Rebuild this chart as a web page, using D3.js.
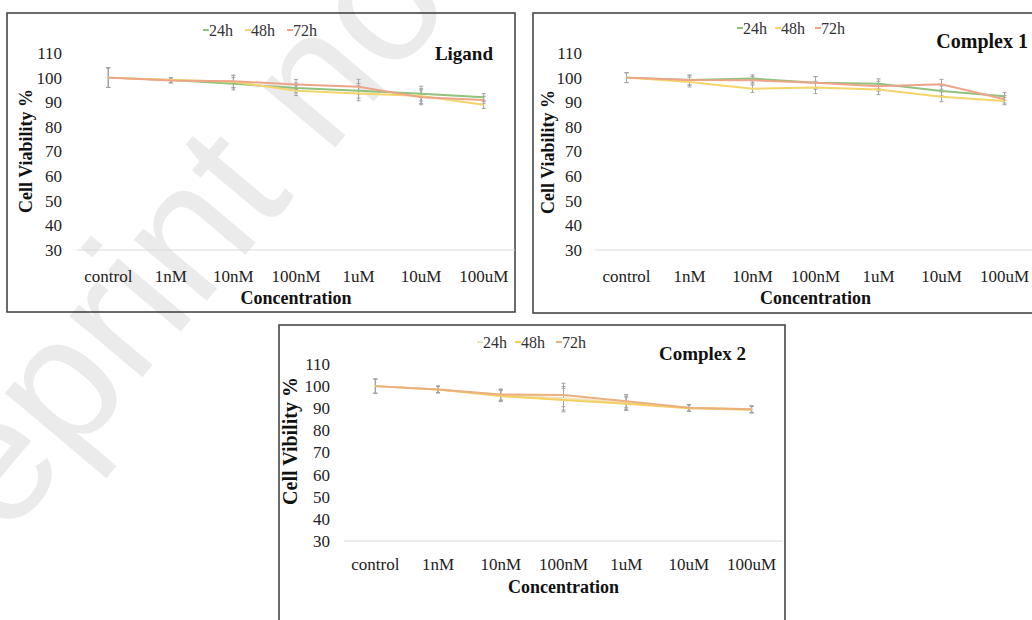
<!DOCTYPE html>
<html>
<head>
<meta charset="utf-8">
<script src="https://cdn.jsdelivr.net/npm/d3@7"></script>
<style>
  body { margin: 0; background: #fff; }
  svg { display: block; }
  text { font-family: "Liberation Serif", "Times New Roman", serif; }
</style>
</head>
<body>
<svg id="fig" width="1032" height="620"></svg>
<script>
// categories and tick labels
var categories = ['control', '1nM', '10nM', '100nM', '1uM', '10uM', '100uM'];
var yTicks = [30, 40, 50, 60, 70, 80, 90, 100, 110];
var seriesNames = ['24h', '48h', '72h'];

// Ligand
var ligand24 = [100, 99, 97.5, 95.8, 94.7, 93.5, 92];
var ligand48 = [100, 99, 98.3, 94.7, 93.6, 92.5, 89];
var ligand72 = [100, 98.8, 98.5, 97.2, 96.3, 92, 90.9];
var ligandErr = [4, 1, 2.5, 2, 3, 3, 1.5];

// Complex 1
var c1_24 = [100, 99, 99.6, 97.9, 97.5, 94.6, 92.4];
var c1_48 = [100, 98.2, 95.5, 96, 95.2, 92.2, 90.5];
var c1_72 = [100, 99, 98.9, 97.9, 96.5, 97.3, 91.2];
var c1Err = [2, 2, 1.5, 2.5, 2, 2, 1.5];

// Complex 2
var c2_24 = [100, 98.5, 96, 94.5, 92.5, 90.2, 89.6];
var c2_48 = [100, 98.5, 95.5, 93.7, 92, 90, 89.3];
var c2_72 = [100, 98.5, 96.2, 96, 93.2, 90.2, 89.6];
var c2Err = [3.2, 1.5, 2.5, 5.3, 3, 1.5, 1.5];

var svg = d3.select('#fig');

// watermark behind everything
svg.append('text')
    .attr('transform', 'translate(-110,678) rotate(-50)')
    .style('font-family', '"Liberation Sans", Arial, sans-serif')
    .style('font-size', '180px')
    .attr('fill', '#ebebeb')
    .text('Preprint not peer reviewed');

var panels = [
  {
    title: 'Ligand', yLabel: 'Cell Viability %', yLabelSize: 18,
    box: [7, 13, 508, 299],
    xRange: [77, 515], yRange: [250, 53], tickX: 62,
    xLabelY: 282, xTitleY: 304, yTitleX: 26, yTitleY: 151,
    legendX: [203, 245, 287], legendY: 30,
    titleX: 493, titleY: 60, titleSize: 19,
    colors: ['#8fc27c', '#f5d46a', '#eda489'],
    series: [ligand24, ligand48, ligand72], err: ligandErr
  },
  {
    title: 'Complex 1', yLabel: 'Cell Viability %', yLabelSize: 18,
    box: [533, 13, 520, 300],
    xRange: [595, 1036], yRange: [250, 53], tickX: 582,
    xLabelY: 282, xTitleY: 304, yTitleX: 548, yTitleY: 152,
    legendX: [737, 775, 815], legendY: 28,
    titleX: 1028, titleY: 48, titleSize: 20,
    colors: ['#8fc27c', '#f5d46a', '#eda489'],
    series: [c1_24, c1_48, c1_72], err: c1Err
  },
  {
    title: 'Complex 2', yLabel: 'Cell Vibility %', yLabelSize: 20,
    box: [279, 325, 506, 320],
    xRange: [344, 783], yRange: [541, 364], tickX: 330,
    xLabelY: 570, xTitleY: 593, yTitleX: 290, yTitleY: 441,
    legendX: [477, 515, 556], legendY: 342,
    titleX: 746, titleY: 360, titleSize: 19,
    colors: ['#f1e2b8', '#f4cf62', '#ebb07f'],
    series: [c2_24, c2_48, c2_72], err: c2Err
  }
];

panels.forEach(function(p) {
  var g = svg.append('g');

  g.append('rect')
      .attr('x', p.box[0]).attr('y', p.box[1])
      .attr('width', p.box[2]).attr('height', p.box[3])
      .attr('fill', 'none')
      .attr('stroke', '#3a3a3a')
      .attr('stroke-width', 1.5);

  var x = d3.scalePoint().domain(categories).range(p.xRange).padding(0.5);
  var y = d3.scaleLinear().domain([30, 110]).range(p.yRange);

  // baseline at 30
  g.append('line')
      .attr('x1', p.xRange[0]).attr('x2', p.xRange[1])
      .attr('y1', y(30)).attr('y2', y(30))
      .attr('stroke', '#d9d9d9').attr('stroke-width', 1);

  // y tick labels
  g.selectAll('.ytick').data(yTicks).enter().append('text')
      .attr('x', p.tickX).attr('y', function(d) { return y(d); })
      .attr('dy', '0.35em')
      .attr('text-anchor', 'end')
      .style('font-size', '17px').attr('fill', '#222')
      .text(function(d) { return d; });

  // x tick labels
  g.selectAll('.xtick').data(categories).enter().append('text')
      .attr('x', function(d) { return x(d); }).attr('y', p.xLabelY)
      .attr('text-anchor', 'middle')
      .style('font-size', '17px').attr('fill', '#222')
      .text(function(d) { return d; });

  g.append('text')
      .attr('x', (p.xRange[0] + p.xRange[1]) / 2)
      .attr('y', p.xTitleY)
      .attr('text-anchor', 'middle')
      .style('font-size', '18px').style('font-weight', 'bold').attr('fill', '#111')
      .text('Concentration');

  g.append('text')
      .attr('transform', 'translate(' + p.yTitleX + ',' + p.yTitleY + ') rotate(-90)')
      .attr('dy', '0.35em')
      .attr('text-anchor', 'middle')
      .style('font-size', p.yLabelSize + 'px').style('font-weight', 'bold').attr('fill', '#111')
      .text(p.yLabel);

  g.append('text')
      .attr('x', p.titleX).attr('y', p.titleY)
      .attr('text-anchor', 'end')
      .style('font-size', p.titleSize + 'px').style('font-weight', 'bold').attr('fill', '#111')
      .text(p.title);

  // legend
  seriesNames.forEach(function(name, i) {
    g.append('line')
        .attr('x1', p.legendX[i]).attr('x2', p.legendX[i] + 6)
        .attr('y1', p.legendY).attr('y2', p.legendY)
        .attr('stroke', p.colors[i]).attr('stroke-width', 2);
    g.append('text')
        .attr('x', p.legendX[i] + 6).attr('y', p.legendY)
        .attr('dy', '0.35em')
        .style('font-size', '16px').attr('fill', '#333')
        .text(name);
  });

  var line = d3.line()
      .x(function(d, i) { return x(categories[i]); })
      .y(function(d) { return y(d); });

  // error bars
  p.series.forEach(function(vals) {
    var eb = g.append('g');
    eb.selectAll('.eb').data(vals).enter().append('line')
        .attr('x1', function(d, i) { return x(categories[i]); })
        .attr('x2', function(d, i) { return x(categories[i]); })
        .attr('y1', function(d, i) { return y(d + p.err[i]); })
        .attr('y2', function(d, i) { return y(d - p.err[i]); })
        .attr('stroke', '#a3a3a3').attr('stroke-width', 1);
    [1, -1].forEach(function(s) {
      eb.selectAll('.cap').data(vals).enter().append('line')
          .attr('x1', function(d, i) { return x(categories[i]) - 2; })
          .attr('x2', function(d, i) { return x(categories[i]) + 2; })
          .attr('y1', function(d, i) { return y(d + s * p.err[i]); })
          .attr('y2', function(d, i) { return y(d + s * p.err[i]); })
          .attr('stroke', '#a3a3a3').attr('stroke-width', 1);
    });
  });

  p.series.forEach(function(vals, k) {
    g.append('path')
        .datum(vals)
        .attr('d', line)
        .attr('fill', 'none')
        .attr('stroke', p.colors[k])
        .attr('stroke-width', 2);
  });
});
</script>
</body>
</html>
